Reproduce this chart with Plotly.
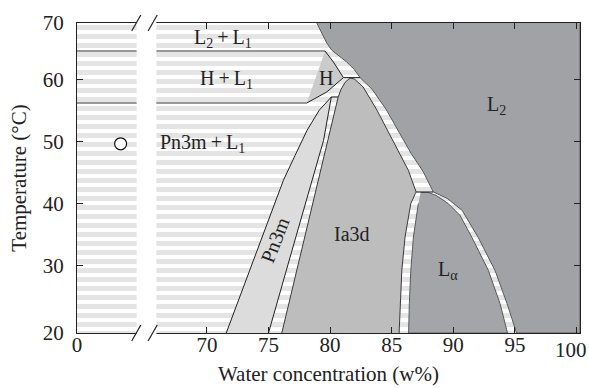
import plotly.graph_objects as go

# ---------------- axes (broken x axis: left edge is labelled 0) ----------------
X_ZERO = 59.46
X_MAX = 100.28
Y_MIN, Y_MAX = 19.08, 69.08
BREAK_LO, BREAK_HI = 64.3, 65.9

x_tick_vals = [X_ZERO, 70, 75, 80, 85, 90, 95, 100]
x_tick_text = ["0", "70", "75", "80", "85", "90", "95", ""]
x_last_label = (100, "100")   # drawn slightly left so it stays inside the page
y_tick_vals = [Y_MIN, 30, 40, 50, 60, Y_MAX]
y_tick_text = ["20", "30", "40", "50", "60", "70"]

# ---------------- single-phase regions: water w%, temperature °C ----------------
l2_x = [78.92, 79.33, 79.73, 80.14, 80.67, 81.35, 81.95, 82.43, 83.41, 84.54, 85.60,
        86.57, 87.54, 88.38, 89.49, 90.71, 92.00, 93.38, 94.36, 95.13, X_MAX, X_MAX]
l2_t = [69.08, 67.37, 65.85, 64.68, 63.87, 62.79, 61.61, 60.27, 58.39, 55.16, 51.45,
        48.06, 45.16, 41.82, 40.81, 38.87, 34.56, 29.19, 23.82, 19.08, 19.08, 69.08]

ia3d_x = [76.08, 77.56, 79.05, 79.83, 80.41, 80.65, 80.89, 81.22, 81.54, 81.70, 82.00,
          82.68, 83.81, 84.87, 85.76, 86.35, 86.98, 86.92, 86.55, 86.08, 85.82, 85.68, 85.60]
ia3d_t = [19.08, 31.29, 43.71, 50.16, 55.00, 57.10, 58.39, 59.52, 60.08, 60.20, 60.00,
          58.76, 55.00, 50.97, 47.42, 45.32, 41.82, 41.60, 39.95, 34.56, 29.19, 23.82, 19.08]

la_x = [87.35, 87.95, 88.60, 89.59, 90.54, 91.49, 92.84, 93.79, 94.40,
        86.37, 86.43, 86.55, 86.76, 87.16]
la_t = [41.75, 41.75, 41.29, 39.95, 38.06, 34.56, 29.19, 23.82, 19.08,
        19.08, 23.82, 29.19, 34.56, 39.95]

pn3m_x = [71.57, 72.72, 73.88, 75.06, 76.21, 77.16, 78.13, 79.11, 80.10,
          79.47, 78.52, 76.75, 75.00]
pn3m_t = [19.08, 25.16, 31.29, 37.58, 43.71, 47.74, 51.77, 55.00, 57.15,
          50.16, 43.71, 31.29, 19.08]

h_x = [79.59, 80.27, 81.08, 79.73, 78.11]
h_t = [64.56, 62.79, 60.27, 57.95, 56.18]

# three-phase / tie lines
tie_lines = [
    ([X_ZERO, 79.59], [64.56, 64.56]),
    ([X_ZERO, 78.11], [56.18, 56.18]),
    ([81.08, 82.43], [60.27, 60.27]),
    ([80.10, 80.65], [57.15, 57.15]),
    ([86.98, 88.38], [41.82, 41.82]),
]

sample_x = [63.0]
sample_t = [49.6]

FONT = "Liberation Serif"
INK = "#222222"

fig = go.Figure()

# striped two-phase background
fig.add_trace(go.Scatter(
    x=[X_ZERO - 1, X_MAX + 1, X_MAX + 1, X_ZERO - 1],
    y=[Y_MIN - 1, Y_MIN - 1, Y_MAX + 1, Y_MAX + 1],
    fill="toself", mode="lines", line=dict(width=0),
    fillcolor="white",
    fillpattern=dict(shape="-", size=9, solidity=0.55,
                     fgcolor="#c9c9c9", bgcolor="white"),
    hoverinfo="skip", showlegend=False))


def region(xs, ts, color, edge):
    fig.add_trace(go.Scatter(
        x=xs, y=ts, fill="toself", fillcolor=color, mode="lines",
        line=dict(color=edge, width=1), hoverinfo="skip", showlegend=False))


region(l2_x, l2_t, "#a1a2a6", "#5a5a5a")
region(ia3d_x, ia3d_t, "#bdbdbd", "#3a3a3a")
region(la_x, la_t, "#a4a5a8", "#5a5a5a")
region(pn3m_x, pn3m_t, "#dcdcdc", INK)
region(h_x, h_t, "#cbcbcb", INK)

for lx, lt in tie_lines:
    fig.add_trace(go.Scatter(x=lx, y=lt, mode="lines",
                             line=dict(color="#333333", width=1.2),
                             hoverinfo="skip", showlegend=False))

fig.add_trace(go.Scatter(
    x=sample_x, y=sample_t, mode="markers",
    marker=dict(size=12, color="white", line=dict(color="#111111", width=1.2)),
    hoverinfo="skip", showlegend=False))

labels = [
    (71.28, 66.61, "L<sub>2</sub>\u2009+\u2009L<sub>1</sub>", 0),
    (71.57, 60.0, "H\u2009+\u2009L<sub>1</sub>", 0),
    (69.66, 49.63, "Pn3m\u2009+\u2009L<sub>1</sub>", 0),
    (79.68, 60.27, "H", 0),
    (75.54, 34.03, "Pn3m", -69),
    (81.76, 35.1, "Ia3d", 0),
    (89.59, 29.19, "L<sub>α</sub>", 0),
    (93.54, 55.8, "L<sub>2</sub>", 0),
]
for lx, ly, txt, ang in labels:
    fig.add_annotation(x=lx, y=ly, text=txt, showarrow=False, textangle=ang,
                       font=dict(family=FONT, size=20, color=INK))

# last x tick label, nudged left to stay inside the page like the original
fig.add_annotation(x=x_last_label[0], y=0, xref="x", yref="paper", text=x_last_label[1],
                   showarrow=False, xanchor="center", yanchor="top", xshift=-6, yshift=-3,
                   font=dict(family=FONT, size=21, color=INK))

# axis break: white gap and slashes
shapes = [dict(type="rect", xref="x", yref="paper", x0=BREAK_LO, x1=BREAK_HI,
               y0=-0.03, y1=1.03, fillcolor="white", line=dict(width=0), layer="above")]
for xc in (BREAK_LO - 0.03, BREAK_HI - 0.3):
    for yc in (0.0, 1.0):
        shapes.append(dict(type="line", xref="x", yref="paper",
                           x0=xc - 0.37, x1=xc + 0.37, y0=yc - 0.026, y1=yc + 0.026,
                           line=dict(color=INK, width=1.2), layer="above"))
fig.update_layout(shapes=shapes)

axis_common = dict(showline=True, linecolor=INK, linewidth=1.3, mirror="ticks",
                   ticks="inside", ticklen=6, tickwidth=1, tickcolor=INK,
                   showgrid=False, zeroline=False, automargin=False,
                   tickfont=dict(family=FONT, size=21, color=INK))

fig.update_xaxes(range=[X_ZERO, X_MAX], tickvals=x_tick_vals, ticktext=x_tick_text,
                 title=dict(text="Water concentration (w%)", standoff=9,
                            font=dict(family=FONT, size=21, color=INK)),
                 ticklabelstandoff=-7, **axis_common)
fig.update_yaxes(range=[Y_MIN, Y_MAX], tickvals=y_tick_vals, ticktext=y_tick_text,
                 title=dict(text="Temperature (°C)", standoff=10,
                            font=dict(family=FONT, size=21, color=INK)),
                 ticklabelstandoff=8, **axis_common)

fig.update_layout(width=589, height=388, margin=dict(l=77, r=9, t=23, b=55),
                  plot_bgcolor="white", paper_bgcolor="white", showlegend=False)

fig.write_html("out.html")
